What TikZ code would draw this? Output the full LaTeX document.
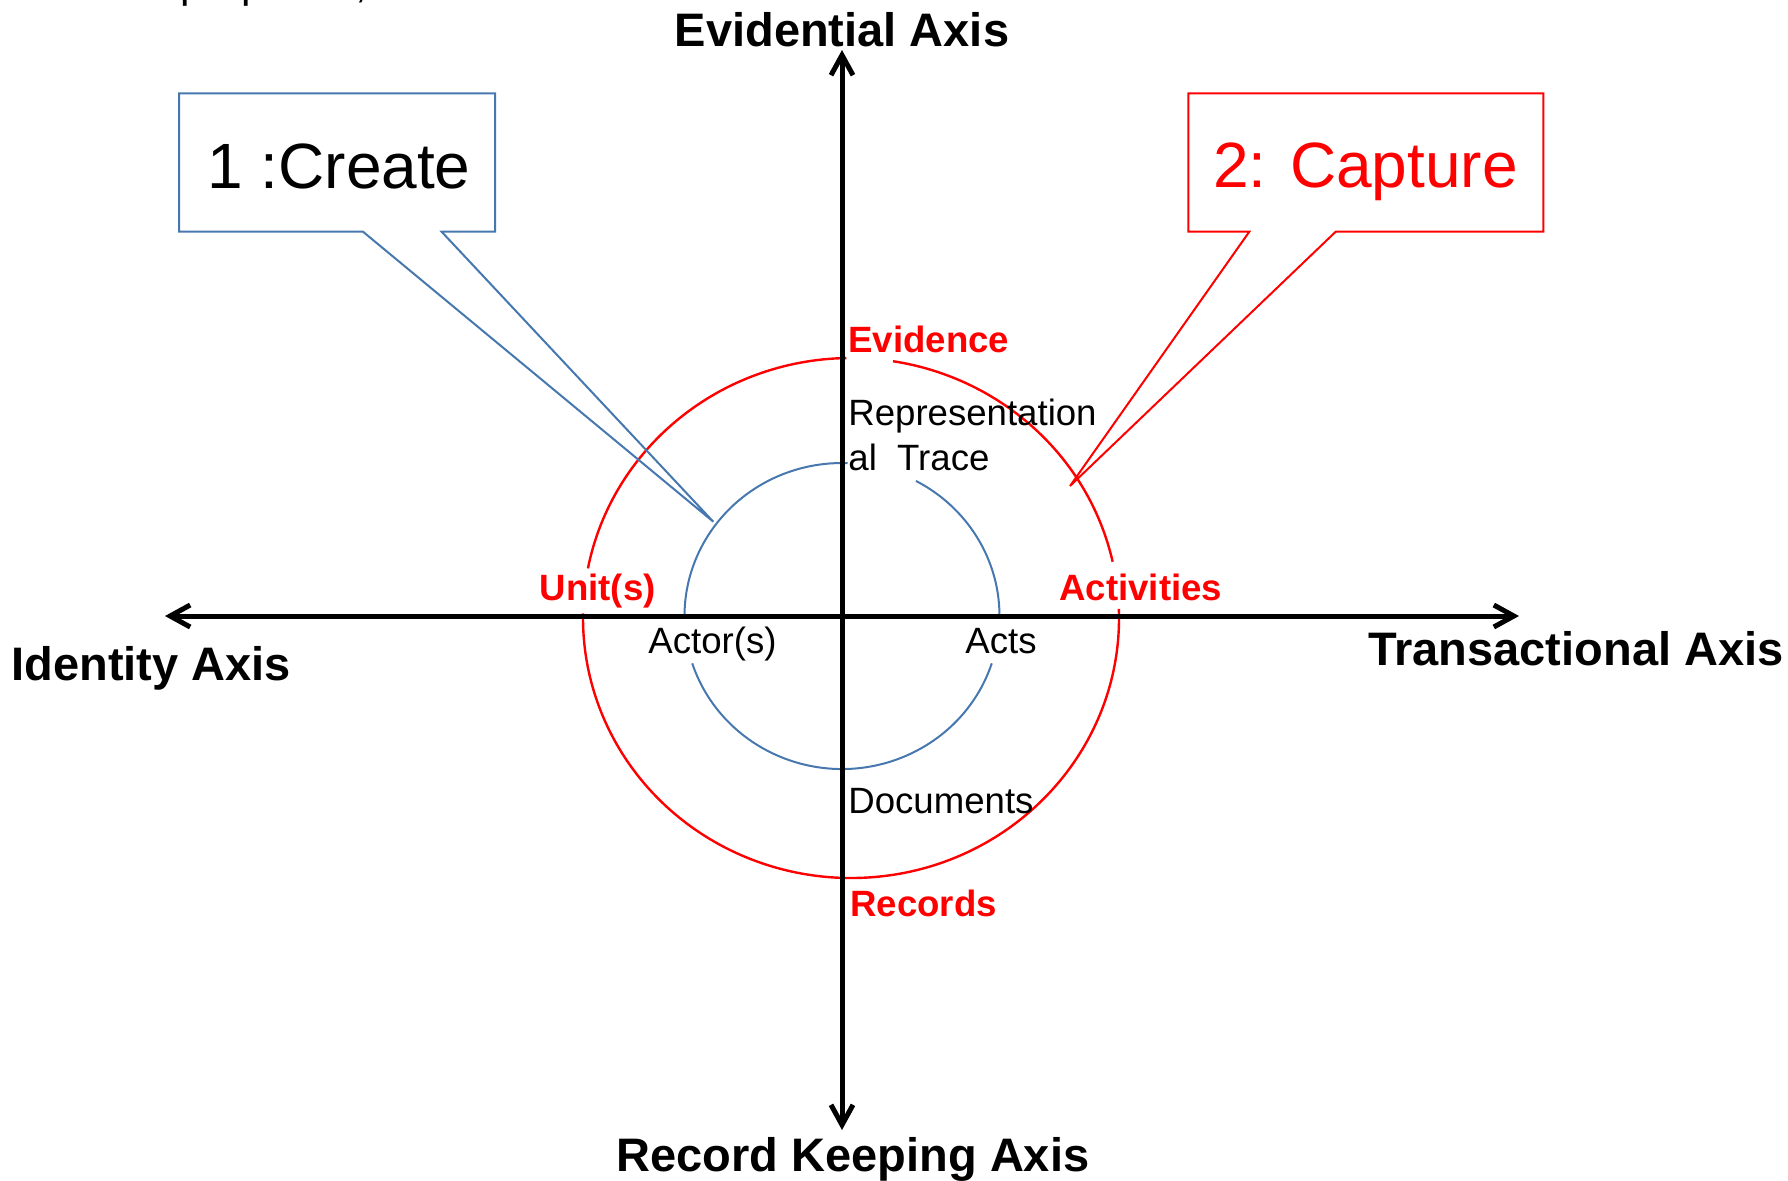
\documentclass[tikz,border=0pt]{standalone}
\usepackage{fontspec}
\setmainfont{Liberation Sans}
\usetikzlibrary{arrows.meta}
\definecolor{cblue}{RGB}{70,120,175}
\definecolor{cred}{RGB}{255,0,0}
\begin{document}
\begin{tikzpicture}[x=0.5pt,y=-0.5pt,
  axisline/.style={line width=2.5pt, line cap=round, {Straight Barb[length=10pt,width=11pt]}-{Straight Barb[length=10pt,width=11pt]}},
  bluearc/.style={draw=cblue, line width=1pt},
  redarc/.style={draw=cred, line width=1.2pt},
  lbl/.style={font=\fontsize{18.3}{22}\selectfont, inner sep=0pt, anchor=base west},
  redlbl/.style={font=\bfseries\fontsize{18.3}{22}\selectfont, text=cred, inner sep=0pt, anchor=base west},
  axlbl/.style={font=\bfseries\fontsize{23.5}{28}\selectfont, inner sep=0pt},
  biglbl/.style={font=\fontsize{32}{38}\selectfont, inner sep=0pt, anchor=base}
]
\useasboundingbox (0,0) rectangle (1788,1180);

% cut-off text at the very top
\node[lbl, font=\fontsize{21.3}{25}\selectfont] (cut) at (180,-2.3) {purposes,};

% centres
\coordinate (cb) at (842,616);
\coordinate (cr) at (851,618);

% inner (blue) circle pieces
\draw[bluearc] (cb) ++(-62:157.5 and 153) arc[start angle=-62,end angle=0,x radius=157.5,y radius=153];
\draw[bluearc] (cb) ++(-180:157.5 and 153) arc[start angle=-180,end angle=-88,x radius=157.5,y radius=153];
\draw[bluearc] (cb) ++(-342:157.5 and 153) arc[start angle=-342,end angle=-198,x radius=157.5,y radius=153];

% outer (red) circle pieces
\draw[redarc] (cr) ++(-81:268 and 260) arc[start angle=-81,end angle=-12.5,x radius=268,y radius=260];
\draw[redarc] (cr) ++(-169:268 and 260) arc[start angle=-169,end angle=-91,x radius=268,y radius=260];
\draw[redarc] (cr) ++(-362:268 and 260) arc[start angle=-362,end angle=-179,x radius=268,y radius=260];

% callouts
\coordinate (t1) at (713.3,521.7);
\draw[cblue, line width=1pt, line join=miter]
  (179,93.3) -- (495,93.3) -- (495,231.7) -- (441.6,231.7) -- (t1) -- (363,231.7) -- (179,231.7) -- cycle;
\node[biglbl] (create) at (339,188.3) {1 :Create};

\coordinate (t2) at (1070,486);
\draw[cred, line width=1pt, line join=miter]
  (1188.3,93.3) -- (1543.3,93.3) -- (1543.3,231.7) -- (1335.7,231.7) -- (t2) -- (1249.3,231.7) -- (1188.3,231.7) -- cycle;
\node[biglbl, text=cred] (capture) at (1365.5,187.3) {2: Capture};

% axes
\coordinate (W) at (165,616);
\coordinate (E) at (1519,616);
\coordinate (N) at (842,50);
\coordinate (S) at (842,1130);
\draw[axisline] (W) -- (E);
\draw[axisline] (N) -- (S);

% axis labels
\node[axlbl, anchor=base] (ev) at (842,46) {Evidential Axis};
\node[axlbl, anchor=base] (rk) at (853,1171) {Record Keeping Axis};
\node[axlbl, anchor=base west] (id) at (11,680) {Identity Axis};
\node[axlbl, anchor=base east] (tr) at (1784,665) {Transactional Axis};

% red labels
\node[redlbl] (evid) at (848,352) {Evidence};
\node[redlbl] (act) at (1059,600) {Activities};
\node[redlbl, anchor=base east] (unit) at (656,600) {Unit(s)};
\node[redlbl] (rec) at (850,916) {Records};

% black labels
\node[lbl] (rep1) at (848,425) {Representation};
\node[lbl] (rep2) at (848,470) {al\ \ Trace};
\node[lbl] (actor) at (648,653) {Actor(s)};
\node[lbl] (acts) at (965,653) {Acts};
\node[lbl] (doc) at (848,813) {Documents};
\end{tikzpicture}
\end{document}
